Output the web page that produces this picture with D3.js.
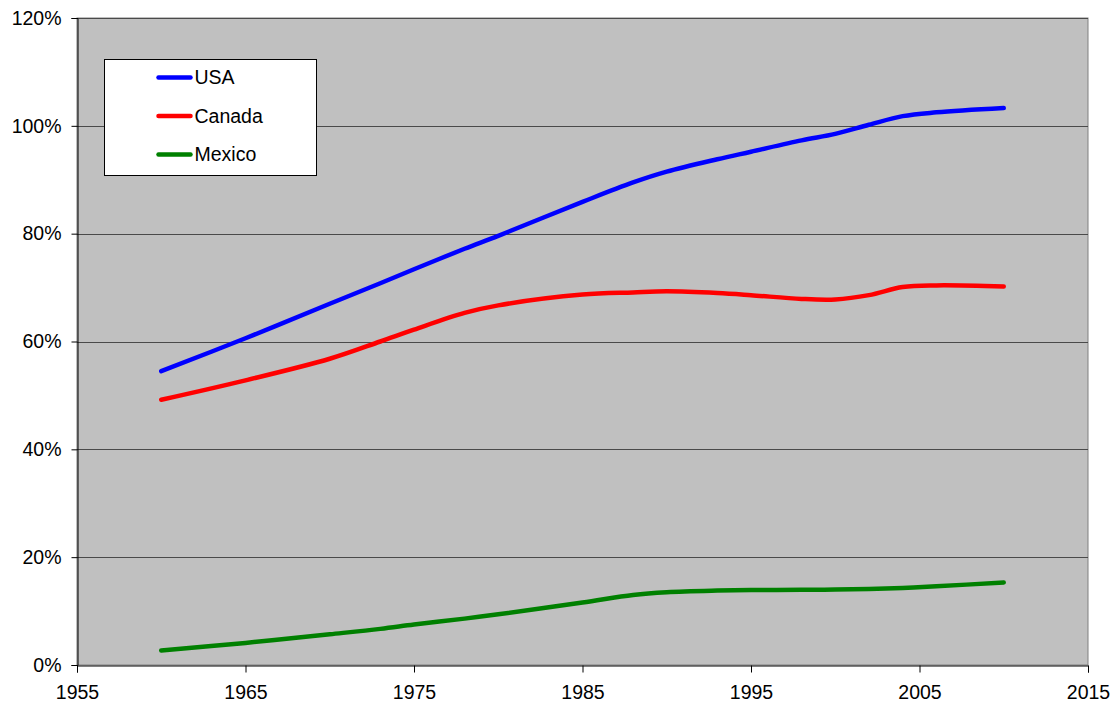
<!DOCTYPE html>
<html>
<head>
<meta charset="utf-8">
<script src="https://cdn.jsdelivr.net/npm/d3@7"></script>
<style>
  body { margin: 0; background: #fff; }
  text { font-family: "Liberation Sans", Arial, sans-serif; }
</style>
</head>
<body>
<div id="chart"></div>
<script>
const width = 1115;
const height = 707;

// data (percent)
const years = [1960, 1965, 1970, 1973, 1975, 1978, 1980, 1985, 1988, 1990, 1993, 1995, 1998, 2000, 2002, 2004, 2006, 2010];
const usa = [54.5, 60.6, 67.0, 70.8, 73.4, 77.2, 79.6, 85.9, 89.5, 91.5, 93.8, 95.2, 97.3, 98.5, 100.2, 101.8, 102.5, 103.3];
const canada = [49.2, 52.8, 56.8, 60.0, 62.2, 65.3, 66.7, 68.7, 69.1, 69.3, 69.0, 68.6, 67.9, 67.8, 68.6, 70.1, 70.4, 70.2];
const mexico = [2.7, 4.1, 5.7, 6.7, 7.5, 8.6, 9.4, 11.6, 13.0, 13.5, 13.8, 13.9, 13.95, 14.0, 14.1, 14.3, 14.6, 15.3];
const seriesNames = ["USA", "Canada", "Mexico"];
const seriesColors = ["#0000ff", "#ff0000", "#008000"];
const xTicks = [1955, 1965, 1975, 1985, 1995, 2005, 2015];
const yTicks = [0, 20, 40, 60, 80, 100, 120];

const series = [usa, canada, mexico].map((vals, i) => ({
	name: seriesNames[i],
	color: seriesColors[i],
	values: years.map((y, j) => ({ year: y, v: vals[j] })),
}));

const margin = { left: 77, right: 27, top: 18, bottom: 42 };
const fontSize = "19.5px";

const svg = d3
	.select("#chart")
	.append("svg")
	.attr("width", width)
	.attr("height", height);

const x = d3.scaleLinear().domain([1955, 2015]).range([margin.left, width - margin.right]);
const y = d3.scaleLinear().domain([0, 120]).range([height - margin.bottom, margin.top]);

// plot area background
svg.append("rect")
	.attr("x", x(1955))
	.attr("y", y(120))
	.attr("width", x(2015) - x(1955))
	.attr("height", y(0) - y(120))
	.attr("fill", "#c0c0c0")
	.attr("stroke", "#808080");

// gridlines
svg.append("g")
	.selectAll("line")
	.data(yTicks.filter((d) => d > 0))
	.join("line")
	.attr("x1", x(1955))
	.attr("x2", x(2015))
	.attr("y1", (d) => Math.round(y(d)) + 0.5)
	.attr("y2", (d) => Math.round(y(d)) + 0.5)
	.attr("stroke", "#4a4a4a")
	.attr("stroke-width", 1);

// axes
const yAxis = svg.append("g")
	.attr("transform", `translate(${Math.round(x(1955)) + 0.5},0)`)
	.call(d3.axisLeft(y).tickValues(yTicks).tickSize(6).tickPadding(10).tickFormat((d) => d + "%"));

const xAxis = svg.append("g")
	.attr("transform", `translate(0,${Math.round(y(0)) + 0.5})`)
	.call(d3.axisBottom(x).tickValues(xTicks).tickSize(7).tickPadding(13).tickFormat(d3.format("d")));

[yAxis, xAxis].forEach((a) => {
	a.select(".domain").attr("stroke", "#000");
	a.selectAll(".tick line").attr("stroke", "#000");
	a.selectAll("text")
		.attr("fill", "#000")
		.style("font-size", fontSize)
		.style("font-family", "'Liberation Sans', Arial, sans-serif");
});

// lines (smoothed like the original)
const line = d3
	.line()
	.x((d) => x(d.year))
	.y((d) => y(d.v))
	.curve(d3.curveCatmullRom.alpha(0.5));

svg.append("g")
	.selectAll("path")
	.data(series)
	.join("path")
	.attr("fill", "none")
	.attr("stroke", (d) => d.color)
	.attr("stroke-width", 4.5)
	.attr("stroke-linecap", "round")
	.attr("stroke-linejoin", "round")
	.attr("d", (d) => line(d.values));

// legend
const legend = svg.append("g").attr("transform", "translate(104.5,59.5)");

legend.append("rect")
	.attr("width", 212)
	.attr("height", 116)
	.attr("fill", "#fff")
	.attr("stroke", "#000");

const item = legend
	.selectAll(".item")
	.data(series)
	.join("g")
	.attr("class", "item")
	.attr("transform", (d, i) => `translate(0,${18 + i * 38.5})`);

item.append("line")
	.attr("x1", 54)
	.attr("x2", 86)
	.attr("stroke", (d) => d.color)
	.attr("stroke-width", 4.5)
	.attr("stroke-linecap", "round");

item.append("text")
	.attr("x", 90)
	.attr("dy", "0.35em")
	.style("font-size", fontSize)
	.attr("fill", "#000")
	.text((d) => d.name);
</script>
</body>
</html>
